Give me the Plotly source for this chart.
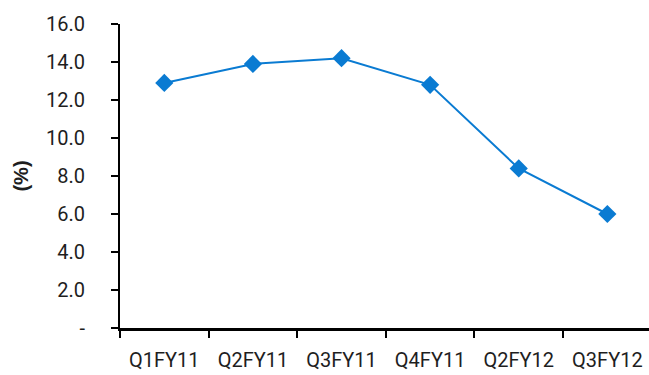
import plotly.graph_objects as go

# Quarterly ratio, in percent
quarters = ["Q1FY11", "Q2FY11", "Q3FY11", "Q4FY11", "Q2FY12", "Q3FY12"]
ratio_pct = [12.9, 13.9, 14.2, 12.8, 8.4, 6.0]

y_ticks = [0, 2, 4, 6, 8, 10, 12, 14, 16]
y_tick_text = ["-", "2.0", "4.0", "6.0", "8.0", "10.0", "12.0", "14.0", "16.0"]

LINE_BLUE = "#0A7BD2"
FONT = "Roboto, Liberation Sans, sans-serif"

fig = go.Figure(
    go.Scatter(
        x=quarters,
        y=ratio_pct,
        mode="lines+markers",
        line=dict(color=LINE_BLUE, width=2),
        marker=dict(symbol="diamond", size=14, color=LINE_BLUE),
        showlegend=False,
        cliponaxis=False,
    )
)

fig.update_layout(
    width=649,
    height=375,
    margin=dict(l=120, r=0, t=24, b=47),
    paper_bgcolor="white",
    plot_bgcolor="white",
    font=dict(family=FONT, size=20, color="#1e1e1e"),
)

fig.update_xaxes(
    type="category",
    range=[-0.5, 5.47],
    automargin=False,
    showline=True,
    linecolor="black",
    linewidth=2.5,
    ticks="outside",
    tickson="boundaries",
    ticklen=7,
    tickwidth=2,
    tickcolor="black",
    ticklabelstandoff=12,
    showgrid=False,
    zeroline=False,
)

fig.update_yaxes(
    range=[0, 16],
    automargin=False,
    tickvals=y_ticks,
    ticktext=y_tick_text,
    showline=True,
    linecolor="black",
    linewidth=2,
    ticks="outside",
    ticklen=7,
    tickwidth=2,
    tickcolor="black",
    ticklabelstandoff=22,
    showgrid=False,
    zeroline=False,
    title=dict(
        text="<b>(%)</b>",
        font=dict(family="Liberation Sans, Arial, sans-serif", size=20, color="#1e1e1e"),
        standoff=12,
    ),
)

fig.write_html("out.html")
